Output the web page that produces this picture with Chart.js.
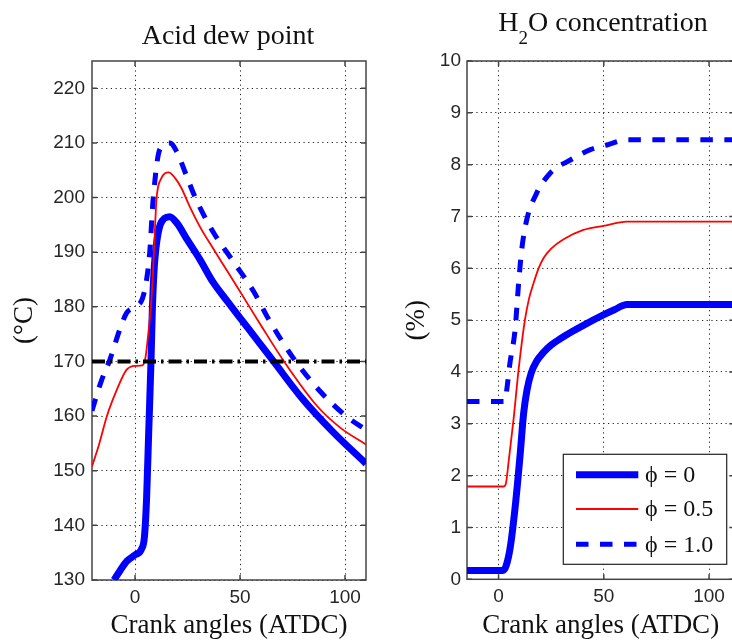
<!DOCTYPE html>
<html lang="en">
<head>
<meta charset="UTF-8">
<title>Acid dew point / H2O concentration</title>
<script src="https://cdn.jsdelivr.net/npm/chart.js"></script>
<style>
    body {
        margin: 0;
        padding: 0;
        background: #fff;
        overflow: hidden;
        width: 732px;
        height: 641px;
        position: relative;
    }
    canvas { position: absolute; top: 0; }
    #dewChart { left: 0; }
    #h2oChart { left: 370px; }
</style>
</head>
<body>
<canvas id="dewChart" width="370" height="641"></canvas>
<canvas id="h2oChart" width="372" height="641"></canvas>

<script>
// tick values
var xTicks = [0, 50, 100];
var dewTicks = [130, 140, 150, 160, 170, 180, 190, 200, 210, 220];
var h2oTicks = [0, 1, 2, 3, 4, 5, 6, 7, 8, 9, 10];
var seriesLabels = ['\u03d5 = 0', '\u03d5 = 0.5', '\u03d5 = 1.0'];

// acid dew point (°C) vs crank angle
var dewX0  = [-10, -7, -4, 0, 3, 4.5, 5.5, 6.5, 7.6, 8.2, 9.2, 11, 14, 16.5, 20, 25, 31, 37, 44, 50, 58, 66, 79, 94, 110];
var dewY0  = [130, 131.8, 133.4, 134.6, 135.6, 138, 145, 157, 170, 179, 187.5, 193.5, 196.2, 196.5, 195.3, 192.2, 188.6, 184.6, 181, 178, 174, 170, 163.5, 157.2, 151.3];
var dewX05 = [-20.5, -17, -13.5, -8.7, -4, 0, 3.5, 5, 6, 7.8, 9, 10.2, 12.5, 16, 19, 22, 26, 31, 37, 44, 50, 60, 70.8, 86.8, 98, 110];
var dewY05 = [150.8, 155, 159.9, 164.8, 168.5, 169.2, 169.3, 170.8, 174, 181.3, 190, 199.6, 203.5, 204.6, 203.6, 201.8, 198.4, 194.6, 190.8, 186.5, 182.8, 176.6, 170.1, 161.8, 157.8, 154.8];
var dewX1  = [-20.5, -16, -12, -7.3, -4, 0, 3.5, 5.5, 7, 8.6, 11.8, 16.6, 20, 24, 28, 33, 38, 47, 56.5, 64, 76, 88, 100.8, 110];
var dewY1  = [161, 166.5, 170.3, 175.8, 178.9, 180, 181.5, 185, 190, 199.6, 208.8, 210, 208.3, 204.5, 200.6, 196.6, 193.2, 188.2, 182.8, 177.5, 170.3, 164.6, 159.9, 157.5];
var dewLimitX = [-20.5, 110];
var dewLimitY = [170, 170];

// H2O concentration (%) vs crank angle
var h2oX0  = [-15, 2, 3.5, 5.6, 7.9, 10.3, 11.9, 13.5, 15.5, 18, 21.4, 25, 29.3, 35, 40.3, 49.8, 55, 61, 112];
var h2oY0  = [0.17, 0.17, 0.25, 0.63, 1.4, 2.43, 3.2, 3.65, 3.98, 4.2, 4.38, 4.52, 4.64, 4.78, 4.9, 5.1, 5.2, 5.3, 5.3];
var h2oX05 = [-15, 2.5, 3.5, 4.7, 7.1, 9.5, 12.5, 14.5, 16.6, 19, 21.4, 25, 30.9, 40.3, 49.8, 61, 112];
var h2oY05 = [1.79, 1.79, 1.85, 2.24, 3.08, 4.04, 5.0, 5.42, 5.71, 6.0, 6.2, 6.38, 6.56, 6.74, 6.82, 6.9, 6.9];
var h2oX1  = [-15, 3, 3.9, 5.4, 7.8, 9.5, 11, 13.4, 18.1, 24.6, 34.1, 43.6, 51.5, 61, 112];
var h2oY1  = [3.43, 3.43, 3.66, 4.17, 4.8, 5.7, 6.36, 6.94, 7.45, 7.84, 8.09, 8.29, 8.38, 8.48, 8.48];

var SERIF = '"Liberation Serif", "Times New Roman", serif';
var SANS = '"Liberation Sans", Arial, sans-serif';

function pts(xs, ys) {
    return xs.map(function (x, i) { return { x: x, y: ys[i] }; });
}

// the three phi curves share these styles
function curves(x0, y0, x05, y05, x1, y1) {
    return [
        { label: seriesLabels[0], data: pts(x0, y0), borderColor: '#0000ff', borderWidth: 7, order: 4 },
        { label: seriesLabels[1], data: pts(x05, y05), borderColor: '#ff0000', borderWidth: 1.8, order: 3 },
        { label: seriesLabels[2], data: pts(x1, y1), borderColor: '#0000ff', borderWidth: 5, borderDash: [12.5, 11.5], order: 2 }
    ];
}

// title with optional subscript pieces
var plotTitle = {
    id: 'plotTitle',
    afterDraw: function (chart, args, opts) {
        var ctx = chart.ctx;
        ctx.save();
        ctx.fillStyle = '#111';
        ctx.textBaseline = 'alphabetic';
        var total = 0;
        opts.parts.forEach(function (p) {
            ctx.font = (p.sub ? 19 : 28) + 'px ' + SERIF;
            p.w = ctx.measureText(p.t).width;
            total += p.w;
        });
        var x = opts.cx - total / 2;
        opts.parts.forEach(function (p) {
            ctx.font = (p.sub ? 19 : 28) + 'px ' + SERIF;
            ctx.fillText(p.t, x, opts.baseline + (p.sub ? 13 : 0));
            x += p.w;
        });
        ctx.restore();
    }
};

// matlab style box with inward ticks
var axesBox = {
    id: 'axesBox',
    beforeDatasetsDraw: function (chart) {
        var ctx = chart.ctx, a = chart.chartArea;
        var xs = chart.scales.x, ys = chart.scales.y;
        ctx.save();
        ctx.strokeStyle = '#444';
        ctx.lineWidth = 1.5;
        ctx.strokeRect(a.left, a.top, a.right - a.left, a.bottom - a.top);
        ctx.beginPath();
        xs.ticks.forEach(function (t) {
            var px = xs.getPixelForValue(t.value);
            ctx.moveTo(px, a.bottom); ctx.lineTo(px, a.bottom - 5);
            ctx.moveTo(px, a.top); ctx.lineTo(px, a.top + 5);
        });
        ys.ticks.forEach(function (t) {
            var py = ys.getPixelForValue(t.value);
            ctx.moveTo(a.left, py); ctx.lineTo(a.left + 5, py);
            ctx.moveTo(a.right, py); ctx.lineTo(a.right - 5, py);
        });
        ctx.stroke();
        ctx.restore();
    }
};

// boxed legend inside the plot
var boxLegend = {
    id: 'boxLegend',
    afterDatasetsDraw: function (chart, args, opts) {
        if (!opts.show) return;
        var ctx = chart.ctx;
        ctx.save();
        ctx.fillStyle = '#fff';
        ctx.fillRect(opts.left, opts.top, opts.right - opts.left, opts.bottom - opts.top);
        ctx.strokeStyle = '#222';
        ctx.lineWidth = 1.2;
        ctx.strokeRect(opts.left, opts.top, opts.right - opts.left, opts.bottom - opts.top);
        chart.data.datasets.forEach(function (ds, i) {
            var y = opts.rows[i];
            ctx.strokeStyle = ds.borderColor;
            ctx.lineWidth = ds.borderWidth;
            ctx.setLineDash(ds.borderDash || []);
            ctx.beginPath();
            ctx.moveTo(opts.lineX0, y);
            ctx.lineTo(opts.lineX1, y);
            ctx.stroke();
            ctx.setLineDash([]);
            ctx.fillStyle = '#111';
            ctx.font = '24px ' + SERIF;
            ctx.textBaseline = 'middle';
            ctx.fillText(ds.label, opts.textX, y + 1);
        });
        ctx.restore();
    }
};

function makeOptions(cfg) {
    return {
        responsive: false,
        animation: false,
        layout: { padding: { left: 0, top: 61, right: cfg.rightPad, bottom: 0 } },
        elements: {
            point: { radius: 0 },
            line: { cubicInterpolationMode: 'monotone', borderCapStyle: 'butt' }
        },
        datasets: { line: { clip: 0 } },
        scales: {
            x: {
                type: 'linear',
                min: cfg.xMin,
                max: cfg.xMax,
                afterBuildTicks: function (s) { s.ticks = xTicks.map(function (v) { return { value: v }; }); },
                afterFit: function (s) { s.height = cfg.xHeight; },
                grid: { color: '#222', lineWidth: 1, drawTicks: false },
                border: { display: false, dash: [1.2, 3.5] },
                ticks: { padding: 6, color: '#262626', font: { family: SANS, size: 19 } },
                title: {
                    display: true, text: 'Crank angles (ATDC)', color: '#111', padding: 0,
                    font: { family: SERIF, size: 27, lineHeight: 1.1 }
                }
            },
            y: {
                type: 'linear',
                min: cfg.yMin,
                max: cfg.yMax,
                afterBuildTicks: function (s) { s.ticks = cfg.yTicks.map(function (v) { return { value: v }; }); },
                afterFit: function (s) { s.width = cfg.yWidth; },
                grid: { color: '#222', lineWidth: 1, drawTicks: false },
                border: { display: false, dash: [1.2, 3.5] },
                ticks: { padding: cfg.yTickPad, color: '#262626', font: { family: SANS, size: 19 } },
                title: {
                    display: true, text: cfg.yTitle, color: '#111', padding: { top: cfg.yTitlePad, bottom: 0 },
                    font: { family: SERIF, size: 27, lineHeight: 1.1 }
                }
            }
        },
        plugins: {
            legend: { display: false },
            tooltip: { enabled: false },
            plotTitle: cfg.title,
            boxLegend: cfg.legend
        }
    };
}

var dewSets = curves(dewX0, dewY0, dewX05, dewY05, dewX1, dewY1);
dewSets.push({ label: 'limit', data: pts(dewLimitX, dewLimitY), borderColor: '#000', borderWidth: 4, borderDash: [13, 5, 2.5, 5], order: 1 });

new Chart(document.getElementById('dewChart'), {
    type: 'line',
    data: { datasets: dewSets },
    options: makeOptions({
        xMin: -20.5, xMax: 110, xHeight: 61,
        yMin: 130, yMax: 225, yTicks: dewTicks, yWidth: 92, yTickPad: 7,
        yTitle: '(\u00b0C)', yTitlePad: 10, rightPad: 4,
        title: { cx: 228, baseline: 44, parts: [{ t: 'Acid dew point' }] },
        legend: { show: false }
    }),
    plugins: [plotTitle, axesBox, boxLegend]
});

new Chart(document.getElementById('h2oChart'), {
    type: 'line',
    data: { datasets: curves(h2oX0, h2oY0, h2oX05, h2oY05, h2oX1, h2oY1) },
    options: makeOptions({
        xMin: -15, xMax: 112, xHeight: 61.7,
        yMin: 0, yMax: 10, yTicks: h2oTicks, yWidth: 97, yTickPad: 6,
        yTitle: '(%)', yTitlePad: 32.5, rightPad: 7.7,
        title: { cx: 233, baseline: 31, parts: [{ t: 'H' }, { t: '2', sub: true }, { t: 'O concentration' }] },
        legend: {
            show: true, left: 193.3, top: 454.3, right: 356.7, bottom: 564.3,
            lineX0: 206, lineX1: 268.3, textX: 275, rows: [474.7, 509, 544.3]
        }
    }),
    plugins: [plotTitle, axesBox, boxLegend]
});
</script>
</body>
</html>
